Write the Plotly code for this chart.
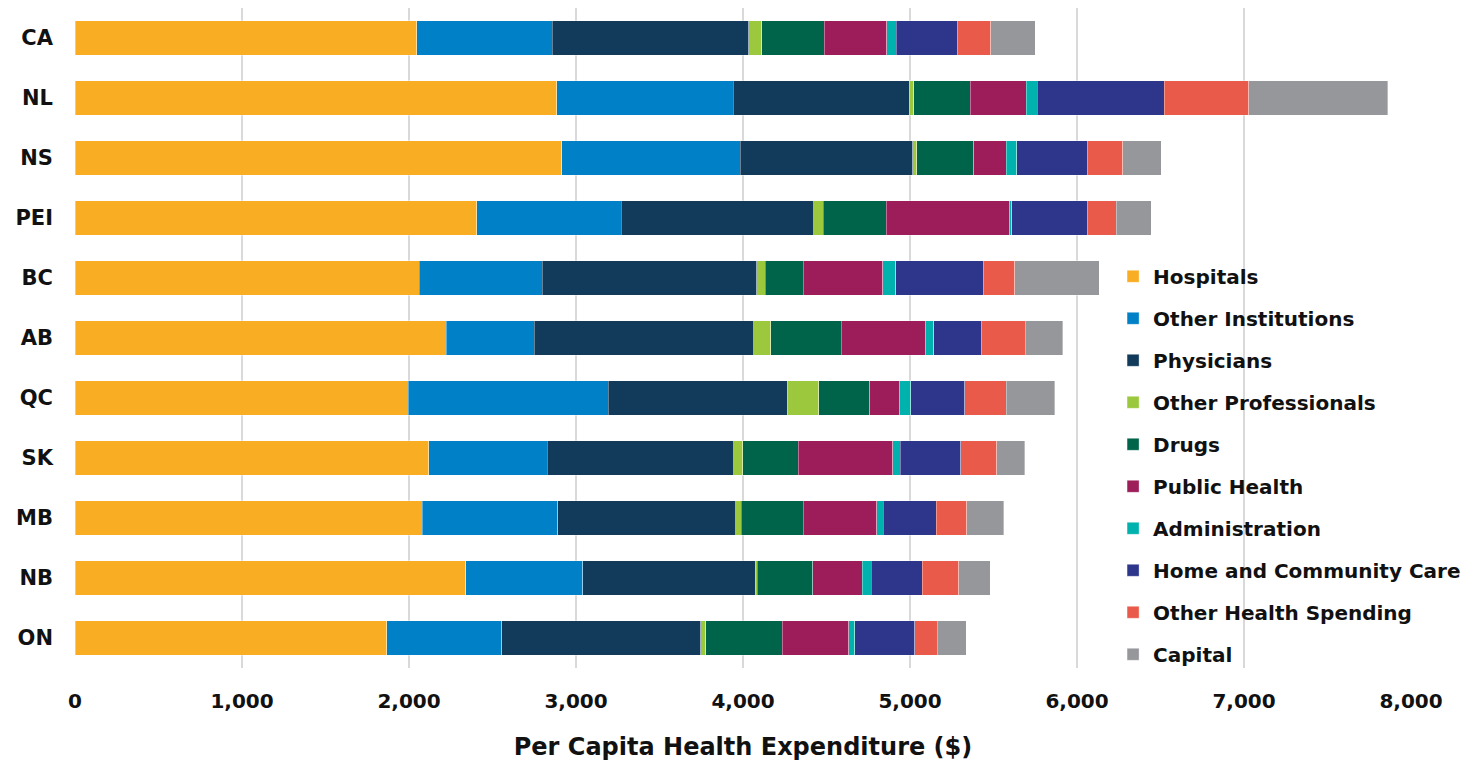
import plotly.graph_objects as go

provinces = ["CA", "NL", "NS", "PEI", "BC", "AB", "QC", "SK", "MB", "NB", "ON"]
categories = ["Hospitals", "Other Institutions", "Physicians", "Other Professionals", "Drugs",
              "Public Health", "Administration", "Home and Community Care",
              "Other Health Spending", "Capital"]

hospitals           = [2046, 2885, 2914, 2405, 2062, 2222, 1994, 2118, 2080, 2340, 1868]
other_institutions  = [813, 1057, 1070, 867, 737, 529, 1200, 711, 810, 700, 687]
physicians          = [1175, 1052, 1031, 1153, 1283, 1313, 1070, 1115, 1066, 1032, 1192]
other_professionals = [78, 28, 24, 56, 50, 102, 189, 54, 32, 14, 30]
drugs               = [373, 338, 344, 376, 228, 421, 307, 334, 372, 331, 457]
public_health       = [376, 335, 193, 740, 478, 508, 180, 564, 441, 296, 399]
administration      = [58, 67, 62, 11, 77, 46, 64, 46, 40, 56, 36]
home_care           = [368, 759, 427, 456, 528, 285, 325, 362, 317, 303, 359]
other_health        = [197, 507, 208, 170, 184, 263, 246, 215, 183, 221, 134]
capital             = [267, 832, 231, 212, 507, 227, 293, 168, 220, 188, 176]

series = [hospitals, other_institutions, physicians, other_professionals, drugs,
          public_health, administration, home_care, other_health, capital]
colors = ["#F8AD22", "#0080C6", "#123B5B", "#9BC83C", "#00644A",
          "#9D1D5B", "#00B2AD", "#2E368C", "#EA5A4A", "#96979B"]

FONT = "DejaVu Sans"

fig = go.Figure()
for name, vals, col in zip(categories, series, colors):
    fig.add_trace(go.Bar(
        y=provinces, x=vals, name=name, orientation="h",
        marker=dict(color=col, line=dict(color="rgba(255,255,255,0.45)", width=0.8)),
        legendgroup=name,
    ))

fig.update_layout(
    barmode="stack",
    bargap=0.43,
    width=1483, height=765,
    margin=dict(l=75, r=72, t=8, b=97),
    plot_bgcolor="white", paper_bgcolor="white",
    font=dict(family=FONT, color="#111111"),
    legend=dict(
        x=0.777, y=0.623, xanchor="left", yanchor="top",
        traceorder="grouped", tracegroupgap=13.0,
        font=dict(family=FONT, size=20, weight="bold", color="#111111"),
        bgcolor="rgba(0,0,0,0)",
        itemwidth=30,
    ),
    xaxis=dict(
        range=[0, 8000], tickvals=[0, 1000, 2000, 3000, 4000, 5000, 6000, 7000, 8000],
        tickformat=",", showgrid=True, gridcolor="#D9D9D9", gridwidth=2,
        zeroline=False, showline=False, ticks="",
        tickfont=dict(family=FONT, size=20, weight="bold", color="#111111"),
        ticklabelstandoff=19,
        title=dict(text="Per Capita Health Expenditure ($)",
                   font=dict(family=FONT, size=24, weight="bold", color="#111111"),
                   standoff=26),
    ),
    yaxis=dict(
        categoryorder="array", categoryarray=provinces, autorange="reversed",
        showgrid=False, zeroline=False, showline=False, ticks="",
        tickfont=dict(family=FONT, size=21, weight="bold", color="#111111"),
        ticklabelstandoff=21,
    ),
)

fig.write_html("out.html")
